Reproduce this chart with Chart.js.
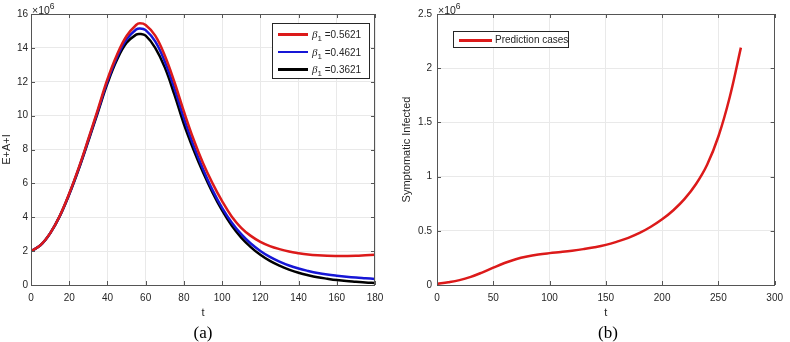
<!DOCTYPE html>
<html>
<head>
<meta charset="utf-8">
<script src="https://cdn.jsdelivr.net/npm/chart.js@4.4.1/dist/chart.umd.min.js"></script>
<style>
  body { margin: 0; background: #fff; width: 790px; height: 342px; position: relative; overflow: hidden;
         font-family: "Liberation Sans", Arial, sans-serif; color: #262626; }
  canvas { position: absolute; top: 0; }
  .exp { position: absolute; top: 1px; font-size: 10.5px; color: #262626; }
  .exp sup { font-size: 8.5px; vertical-align: 5px; }
  .caption { position: absolute; top: 323px; width: 60px; margin-left: -30px; text-align: center;
             font-family: "Liberation Serif", "DejaVu Serif", serif; font-size: 17px; color: #000; }
  .legend { position: absolute; background: #fff; border: 1px solid #262626; box-sizing: border-box; font-size: 10px; }
  .legend .row { position: absolute; left: 0; height: 16px; line-height: 16px; white-space: nowrap; }
  .legend .swatch { position: absolute; top: 7px; height: 2.5px; }
  .legend .lbl { position: absolute; top: 0; }
  .legend i { font-family: "Liberation Serif", serif; font-size: 11px; }
  .legend sub { font-size: 8px; vertical-align: -3px; }
</style>
</head>
<body>
<canvas id="left" width="395" height="342" style="left:0"></canvas>
<canvas id="right" width="395" height="342" style="left:395px"></canvas>
<div class="exp" style="left:32px">&times;10<sup>6</sup></div>
<div class="exp" style="left:438px">&times;10<sup>6</sup></div>
<div class="caption" style="left:203px">(a)</div>
<div class="caption" style="left:608px">(b)</div>
<div class="legend" id="legendA" style="left:272px;top:23px;width:98px;height:56px"></div>
<div class="legend" id="legendB" style="left:453px;top:31px;width:116px;height:17px"></div>
<script>
// panel (a): E+A+I, values in units of 10^6
const tA = [0, 5, 10, 15, 20, 25, 30, 35, 40, 45, 50, 55, 57, 60, 65, 70, 75, 80, 85, 90, 95,
  100, 105, 110, 115, 120, 125, 130, 135, 140, 145, 150, 155, 160, 165, 170, 175, 180];
const eaiBeta1 = [2.0, 2.35, 3.05, 4.07, 5.4, 6.93, 8.62, 10.37, 12.15, 13.6, 14.7, 15.35, 15.45, 15.35, 14.72, 13.55, 12.0, 10.25, 8.62, 7.2, 6.0,
  4.95, 4.05, 3.38, 2.9, 2.55, 2.3, 2.12, 1.98, 1.88, 1.8, 1.75, 1.72, 1.71, 1.71, 1.72, 1.75, 1.78];
const eaiBeta2 = [2.0, 2.35, 3.05, 4.06, 5.37, 6.89, 8.56, 10.28, 12.02, 13.45, 14.5, 15.08, 15.15, 15.05, 14.38, 13.2, 11.62, 9.85, 8.25, 6.85, 5.6,
  4.55, 3.69, 3.0, 2.45, 2.01, 1.66, 1.38, 1.15, 0.97, 0.83, 0.71, 0.62, 0.55, 0.49, 0.44, 0.4, 0.36];
const eaiBeta3 = [2.0, 2.35, 3.05, 4.05, 5.35, 6.85, 8.5, 10.2, 11.9, 13.3, 14.3, 14.78, 14.82, 14.72, 14.0, 12.85, 11.25, 9.5, 8.0, 6.65, 5.45,
  4.4, 3.51, 2.8, 2.24, 1.78, 1.42, 1.14, 0.91, 0.72, 0.58, 0.46, 0.37, 0.29, 0.23, 0.19, 0.15, 0.12];
const betaValues = ['0.5621', '0.4621', '0.3621'];

// panel (b): symptomatic infected, units of 10^6
const tB = [0, 10, 20, 30, 40, 50, 60, 70, 80, 90, 100, 110, 120, 130, 140, 150, 160, 170, 180,
  190, 200, 210, 220, 230, 240, 250, 260, 270];
const predicted = [0.01, 0.025, 0.045, 0.075, 0.115, 0.16, 0.203, 0.238, 0.263, 0.281, 0.294, 0.305, 0.317, 0.331, 0.348,
  0.37, 0.40, 0.435, 0.48, 0.537, 0.606, 0.69, 0.795, 0.93, 1.11, 1.37, 1.73, 2.19];

const colors = ['#dc1a1a', '#1616d6', '#000000'];
const axisColor = '#555555';
const textColor = '#262626';

const toXY = (xs, ys) => xs.map((x, i) => ({ x: x, y: ys[i] }));

// MATLAB-like box with inward ticks on all four sides
const boxPlugin = {
  id: 'box',
  afterDraw(chart) {
    const { ctx, chartArea: a, scales } = chart;
    ctx.save();
    ctx.strokeStyle = axisColor;
    ctx.lineWidth = 1;
    ctx.beginPath();
    scales.x.ticks.forEach(tk => {
      const px = Math.round(scales.x.getPixelForValue(tk.value)) + 0.5;
      ctx.moveTo(px, a.bottom); ctx.lineTo(px, a.bottom - 4);
      ctx.moveTo(px, a.top); ctx.lineTo(px, a.top + 4);
    });
    scales.y.ticks.forEach(tk => {
      const py = Math.round(scales.y.getPixelForValue(tk.value)) + 0.5;
      ctx.moveTo(a.left, py); ctx.lineTo(a.left + 4, py);
      ctx.moveTo(a.right, py); ctx.lineTo(a.right - 4, py);
    });
    ctx.stroke();
    ctx.strokeRect(Math.round(a.left) + 0.5, Math.round(a.top) + 0.5, Math.round(a.width) - 1, Math.round(a.height));
    ctx.restore();
  }
};

function makeOptions(o) {
  return {
    responsive: false,
    animation: false,
    layout: { padding: { top: 14, right: o.padRight, bottom: 18, left: 0 } },
    plugins: { legend: { display: false }, tooltip: { enabled: false } },
    elements: { point: { radius: 0 }, line: { borderWidth: 2.5, tension: 0.4 } },
    scales: {
      x: {
        type: 'linear', min: 0, max: o.xMax,
        grid: { color: '#e9e9e9', drawTicks: false },
        border: { display: false },
        ticks: { stepSize: o.xStep, color: textColor, font: { size: 10 }, padding: 7, maxRotation: 0 },
        title: { display: true, text: 't', color: textColor, font: { size: 11 }, padding: { top: 4, bottom: 4 } },
        afterFit: s => { s.height = 39; }
      },
      y: {
        type: 'linear', min: 0, max: o.yMax,
        grid: { color: '#e9e9e9', drawTicks: false },
        border: { display: false },
        ticks: { stepSize: o.yStep, color: textColor, font: { size: 10 }, padding: o.tickPad, callback: v => String(+v) },
        title: { display: true, text: o.yTitle, color: textColor, font: { size: 11 }, padding: { top: o.titlePad, bottom: 0 } },
        afterFit: s => { s.width = o.yWidth; }
      }
    }
  };
}

new Chart(document.getElementById('left'), {
  type: 'line',
  data: {
    datasets: [eaiBeta1, eaiBeta2, eaiBeta3].map((ys, i) => ({
      label: 'β1 =' + betaValues[i],
      data: toXY(tA, ys),
      borderColor: colors[i],
      order: i
    }))
  },
  options: makeOptions({ xMax: 180, xStep: 20, yMax: 16, yStep: 2, yTitle: 'E+A+I',
    padRight: 20, yWidth: 31, tickPad: 3, titlePad: 0 }),
  plugins: [boxPlugin]
});

new Chart(document.getElementById('right'), {
  type: 'line',
  data: {
    datasets: [{ label: 'Prediction cases', data: toXY(tB, predicted), borderColor: colors[0] }]
  },
  options: makeOptions({ xMax: 300, xStep: 50, yMax: 2.5, yStep: 0.5, yTitle: 'Symptomatic Infected',
    padRight: 9, yWidth: 42, tickPad: 5, titlePad: 5 }),
  plugins: [boxPlugin]
});

// legends
const legA = document.getElementById('legendA');
betaValues.forEach((v, i) => {
  const row = document.createElement('div');
  row.className = 'row';
  row.style.top = (2 + i * 17.5) + 'px';
  row.innerHTML = `<span class="swatch" style="left:5px;width:30px;background:${colors[i]}"></span>` +
    `<span class="lbl" style="left:39px"><i>β</i><sub>1</sub> =${v}</span>`;
  legA.appendChild(row);
});
const legB = document.getElementById('legendB');
legB.innerHTML = `<div class="row" style="top:0"><span class="swatch" style="left:5px;width:33px;background:${colors[0]}"></span>` +
  `<span class="lbl" style="left:41px">Prediction cases</span></div>`;
</script>
</body>
</html>
